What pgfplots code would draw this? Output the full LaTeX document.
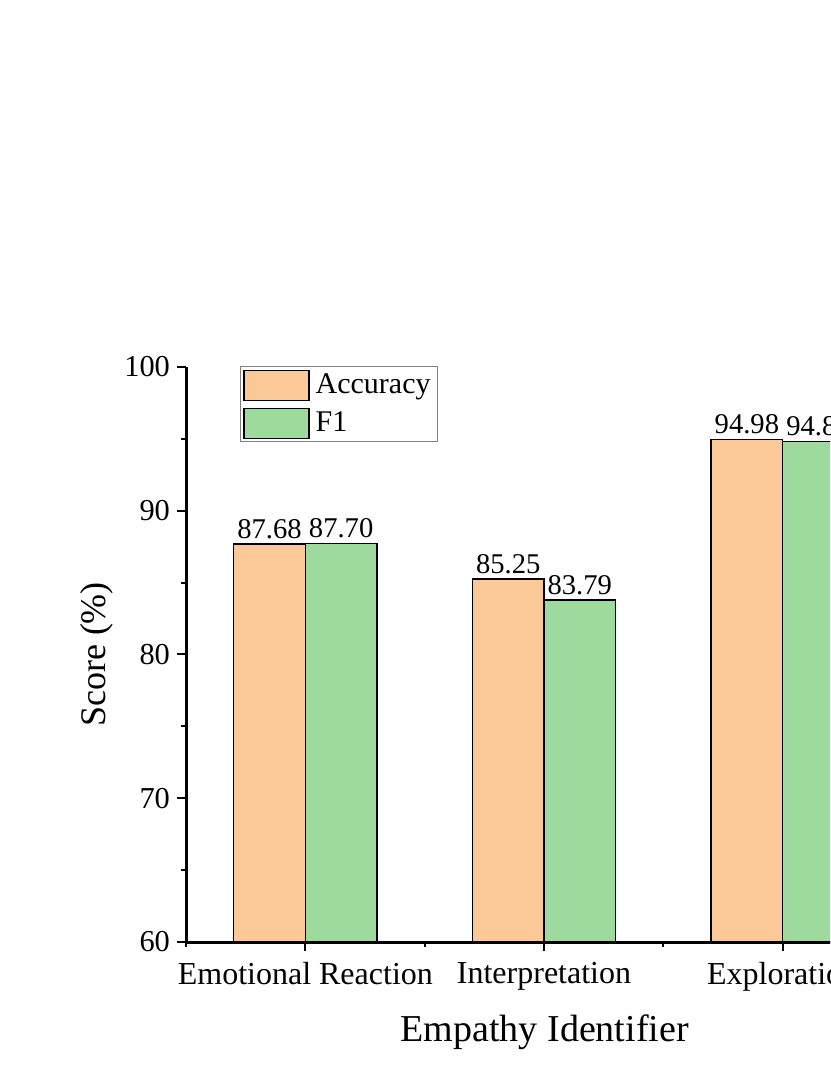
\documentclass[border=0pt]{standalone}
\usepackage{pgfplots}
\pgfplotsset{compat=1.18}
\usepackage{fontspec}
\setmainfont{Liberation Serif}
\definecolor{accC}{RGB}{251,200,152}
\definecolor{f1C}{RGB}{158,217,158}
\begin{document}
\begin{tikzpicture}
\useasboundingbox (0,0) rectangle (415pt,537.5pt);
\clip (0,0) rectangle (415pt,537.5pt);
\begin{axis}[
  at={(93pt,66.5pt)}, anchor=south west,
  width=358pt, height=287.5pt, scale only axis,
  xmin=-0.5, xmax=2.5, ymin=60, ymax=100,
  axis x line*=bottom, axis y line*=left,
  axis line style={line width=1.5pt},
  xtick={0,1,2}, xticklabels={Emotional Reaction, Interpretation, Exploration},
  minor xtick={-0.5,0.5,1.5,2.5},
  ytick={60,70,80,90,100}, minor ytick={65,75,85,95},
  tick align=outside, major tick length=4.5pt, minor tick length=2.5pt,
  every tick/.style={black, line width=1pt},
  xticklabel style={font=\fontsize{16}{19}\selectfont, yshift=-2pt},
  yticklabel style={font=\fontsize{15.2}{18}\selectfont},
  /pgf/number format/assume math mode=true,
  xlabel={Empathy Identifier}, ylabel={Score (\%)},
  xlabel style={font=\fontsize{19}{23}\selectfont, at={(axis description cs:0.501,-0.157)}, anchor=center},
  ylabel style={font=\fontsize{18}{22}\selectfont, at={(axis description cs:-0.124,0.5)}, anchor=center},
  legend style={at={(axis description cs:0.0754,1.0017)}, anchor=north west, draw=gray, line width=0.5pt, font=\fontsize{15}{18}\selectfont, inner sep=1.5pt, row sep=3.5pt},
  legend cell align=left,
  mylegend/.style={legend image code/.code={\draw[##1, line width=0.6pt] (0pt,-7.5pt) rectangle (32.5pt,7.5pt); \path (33.5pt,0pt);}},
  nodes near coords={\pgfmathprintnumber[fixed,fixed zerofill,precision=2]{\pgfplotspointmeta}},
  every node near coord/.append style={font=\fontsize{14.3}{17}\selectfont, inner sep=2.5pt, black},
]
\addplot[ybar, bar width=0.3, bar shift=-0.15, fill=accC, draw=black, line width=0.6pt, mylegend,
  every node near coord/.append style={xshift=-17.9pt}] coordinates {(0,87.68) (1,85.25) (2,94.98)};
\addplot[ybar, bar width=0.3, bar shift=0.15, fill=f1C, draw=black, line width=0.6pt, mylegend,
  every node near coord/.append style={xshift=17.9pt}] coordinates {(0,87.70) (1,83.79) (2,94.82)};
\legend{Accuracy, F1}
\end{axis}
\end{tikzpicture}
\end{document}
